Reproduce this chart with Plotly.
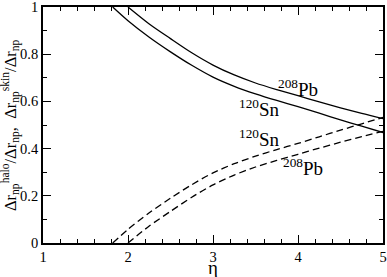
import plotly.graph_objects as go

eta_pb = [2.0, 2.25, 2.5, 2.75, 3.0, 3.25, 3.5, 3.75, 4.0, 4.25, 4.5, 4.75, 5.0]
skin_pb = [1.0, 0.928, 0.866, 0.806, 0.754, 0.712, 0.678, 0.650, 0.624, 0.598, 0.573, 0.549, 0.527]
halo_pb = [0.0, 0.072, 0.134, 0.194, 0.246, 0.288, 0.322, 0.350, 0.376, 0.402, 0.427, 0.451, 0.473]

eta_sn = [1.82, 2.0, 2.25, 2.5, 2.75, 3.0, 3.25, 3.5, 3.75, 4.0, 4.25, 4.5, 4.75, 5.0]
skin_sn = [1.0, 0.942, 0.872, 0.810, 0.753, 0.703, 0.664, 0.632, 0.604, 0.578, 0.550, 0.522, 0.495, 0.468]
halo_sn = [0.0, 0.058, 0.128, 0.190, 0.247, 0.297, 0.336, 0.368, 0.396, 0.422, 0.450, 0.478, 0.505, 0.532]

x_ticks = [1, 2, 3, 4, 5]
y_ticks = [0, 0.2, 0.4, 0.6, 0.8, 1]
y_tick_text = ["0", "0.2", "0.4", "0.6", "0.8", "1"]

FONT = "Liberation Serif"

fig = go.Figure()
line = dict(color="black", width=1.3, shape="spline", smoothing=0.8)
fig.add_trace(go.Scatter(x=eta_pb, y=skin_pb, mode="lines", line=line))
fig.add_trace(go.Scatter(x=eta_sn, y=skin_sn, mode="lines", line=line))
fig.add_trace(go.Scatter(x=eta_pb, y=halo_pb, mode="lines", line=dict(line, dash="7px,4px")))
fig.add_trace(go.Scatter(x=eta_sn, y=halo_sn, mode="lines", line=dict(line, dash="7px,4px")))

labels = [
    (4.0, 0.655, "<sup>208</sup>Pb"),
    (3.55, 0.57, "<sup>120</sup>Sn"),
    (3.55, 0.443, "<sup>120</sup>Sn"),
    (4.06, 0.32, "<sup>208</sup>Pb"),
]
for x, y, t in labels:
    fig.add_annotation(x=x, y=y, text=t, showarrow=False,
                       font=dict(family=FONT, size=19, color="black"))

# axis titles as paper-positioned annotations
fig.add_annotation(xref="paper", yref="paper", x=0.5, y=-0.104, yanchor="middle",
                   text="η", showarrow=False,
                   font=dict(family=FONT, size=19, color="black"))
fig.add_annotation(xref="paper", yref="paper", x=-0.097, y=0.5, xanchor="center",
                   yanchor="middle", textangle=-90,
                   text="Δr<sub>np</sub><sup>halo</sup>/Δr<sub>np</sub>,  Δr<sub>np</sub><sup>skin</sup>/Δr<sub>np</sub>",
                   showarrow=False, font=dict(family=FONT, size=16.5, color="black"))

axis_common = dict(
    showgrid=False, zeroline=False, showline=True, linecolor="black", linewidth=1.8,
    mirror="allticks", ticks="inside", ticklen=8, tickwidth=1.2, tickcolor="black",
    tickfont=dict(family=FONT, size=14.5, color="black"),
    ticklabeloverflow="allow", automargin=False,
)
fig.update_xaxes(
    range=[1, 5], tickvals=x_ticks,
    minor=dict(dtick=0.2, ticks="inside", ticklen=4, tickwidth=1, tickcolor="black"),
    **axis_common,
)
fig.update_yaxes(
    range=[0, 1], tickvals=y_ticks, ticktext=y_tick_text,
    minor=dict(dtick=0.1, ticks="inside", ticklen=4, tickwidth=1, tickcolor="black"),
    **axis_common,
)
fig.update_layout(
    width=387, height=277, showlegend=False,
    margin=dict(l=43, r=4, t=7, b=34),
    plot_bgcolor="white", paper_bgcolor="white",
)
fig.write_html("out.html", config={"displayModeBar": False},
               post_script="document.body.style.margin='0';document.body.style.overflow='hidden';")
